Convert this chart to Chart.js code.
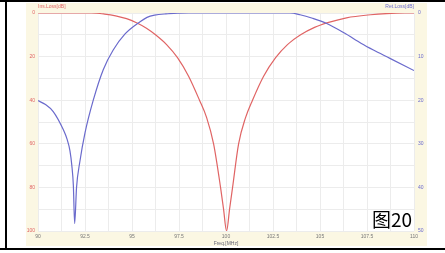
<!DOCTYPE html>
<html>
<head>
<meta charset="utf-8">
<script src="https://cdn.jsdelivr.net/npm/chart.js@4/dist/chart.umd.min.js"></script>
<style>
  html, body { margin: 0; padding: 0; background: #fff; }
  canvas { display: block; }
</style>
</head>
<body>
<canvas id="myChart" width="445" height="253"></canvas>
<script>
// insertion loss (left axis, dB)
const insFreq = [90, 92, 92.85, 93.54, 94.13, 94.71, 95.24, 95.77, 96.25, 96.84, 97.42, 98.01, 98.59, 98.97, 99.34, 99.71, 99.87, 100.03,
  100.19, 100.35, 100.67, 101.04, 101.41, 102.0, 102.64, 103.27, 103.97, 104.71, 105.46, 106.41, 107.69, 108.54, 109.5, 110];
const insLoss = [0, 0, 0, 0.5, 1.3, 2.6, 4.5, 7, 10, 14.5, 20.5, 29, 40, 48, 60, 80, 90, 100,
  90, 80, 60, 48, 40, 29, 20.5, 14.5, 10, 6.6, 4.3, 2.2, 0.8, 0.25, 0, 0];

// return loss (right axis, dB)
const retFreq = [90, 90.4, 90.81, 91.35, 91.55, 91.7, 91.8, 91.88, 91.95, 92.05, 92.23, 92.5, 92.94, 93.47, 94.0, 94.63,
  95.43, 95.8, 96.2, 96.8, 97.5, 98, 100, 103.4, 103.94, 104.6, 105.36, 106.3, 107.2, 107.84, 108.72, 110];
const retLoss = [20.1, 21, 22.6, 26.8, 29, 31.6, 35, 39.5, 48.3, 40, 34, 27.5, 20, 13, 8.5, 4.8,
  2, 1, 0.5, 0.2, 0.05, 0, 0, 0, 0.4, 1.2, 2.4, 4.6, 7, 8.5, 10.4, 13.2];

const xMin = 90, xMax = 110;
const insMax = 100, retMax = 50;
const xLabelStep = 2.5, insLabelStep = 20, retLabelStep = 10;

const RED = "#e06464";
const BLUE = "#6a6acc";

const toPoints = (xs, ys) => xs.map((x, i) => ({ x: x, y: ys[i] }));

const framePlugin = {
  id: "frame",
  beforeDraw(chart) {
    const ctx = chart.ctx;
    const a = chart.chartArea;
    ctx.save();
    ctx.fillStyle = "#fbf7e3";
    ctx.fillRect(26, 3, 401, 243);
    ctx.fillStyle = "#ffffff";
    ctx.fillRect(a.left, a.top, a.right - a.left, a.bottom - a.top);
    ctx.restore();
  },
  afterDraw(chart) {
    const ctx = chart.ctx;
    const a = chart.chartArea;
    ctx.save();
    ctx.font = "5px 'Liberation Sans'";
    ctx.textBaseline = "alphabetic";
    ctx.fillStyle = RED;
    ctx.textAlign = "left";
    ctx.fillText("Ins.Loss[dB]", a.left, 8);
    ctx.fillStyle = BLUE;
    ctx.textAlign = "right";
    ctx.fillText("Ret.Loss[dB]", a.right, 8);

    ctx.fillStyle = "#000";
    ctx.textAlign = "left";
    ctx.font = "19px 'Noto Sans CJK SC'";
    ctx.fillText("图20", 372, 227);

    // black frame lines
    ctx.fillRect(0, 0, 445, 2);
    ctx.fillRect(5, 0, 2, 250);
    ctx.fillRect(0, 248, 445, 2);
    ctx.restore();
  },
};

const config = {
  type: "line",
  data: {
    datasets: [
      {
        data: toPoints(retFreq, retLoss),
        yAxisID: "y1",
        borderColor: BLUE,
        borderWidth: 1.2,
        pointRadius: 0,
        cubicInterpolationMode: "monotone",
      },
      {
        data: toPoints(insFreq, insLoss),
        yAxisID: "y",
        borderColor: RED,
        borderWidth: 1.2,
        pointRadius: 0,
        cubicInterpolationMode: "monotone",
      },
    ],
  },
  options: {
    responsive: false,
    animation: false,
    devicePixelRatio: 1,
    layout: { padding: { top: 13, left: 0, right: 0, bottom: 0 } },
    plugins: {
      legend: { display: false },
      tooltip: { enabled: false },
    },
    scales: {
      x: {
        type: "linear",
        min: xMin,
        max: xMax,
        afterFit: (scale) => { scale.height = 22; },
        grid: { color: "#ececec", drawTicks: false },
        border: { display: false },
        ticks: {
          stepSize: 1.25,
          padding: 3,
          maxRotation: 0,
          autoSkip: false,
          color: "#777",
          font: { size: 5, family: "Liberation Sans" },
          callback: (v) => (v % xLabelStep === 0 ? String(v) : ""),
        },
        title: {
          display: true,
          text: "Freq.[MHz]",
          color: "#667",
          font: { size: 5, family: "Liberation Sans" },
          padding: { top: 0, bottom: 6 },
        },
      },
      y: {
        position: "left",
        reverse: true,
        min: 0,
        max: insMax,
        afterFit: (scale) => { scale.width = 38; },
        grid: { color: "#ececec", drawTicks: false },
        border: { display: false },
        ticks: {
          stepSize: 10,
          padding: 3,
          color: RED,
          font: { size: 5, family: "Liberation Sans" },
          callback: (v) => (v % insLabelStep === 0 ? String(v) : ""),
        },
      },
      y1: {
        position: "right",
        reverse: true,
        min: 0,
        max: retMax,
        afterFit: (scale) => { scale.width = 31; },
        grid: { drawOnChartArea: false, drawTicks: false },
        border: { display: false },
        ticks: {
          stepSize: retLabelStep,
          padding: 4,
          color: BLUE,
          font: { size: 5, family: "Liberation Sans" },
        },
      },
    },
  },
  plugins: [framePlugin],
};

new Chart(document.getElementById("myChart").getContext("2d"), config);
</script>
</body>
</html>
